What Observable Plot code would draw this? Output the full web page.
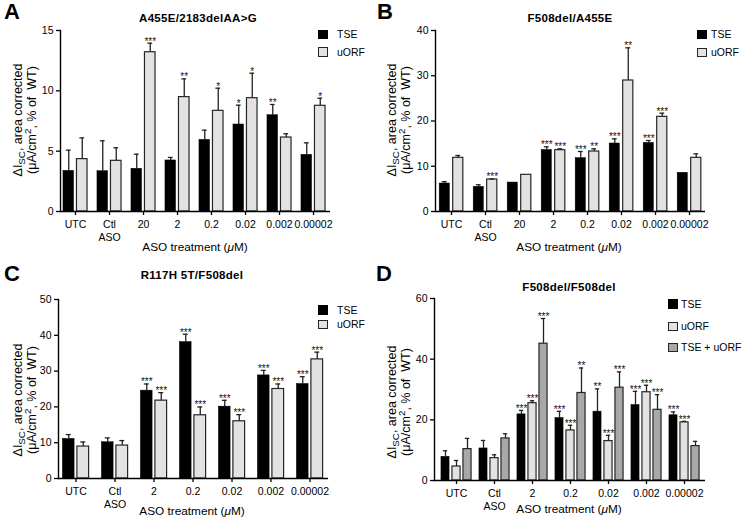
<!DOCTYPE html>
<html><head><meta charset="utf-8">
<script src="https://cdn.jsdelivr.net/npm/d3@7"></script>
<script src="https://cdn.jsdelivr.net/npm/@observablehq/plot@0.6"></script>
<style>
body{margin:0;background:#fff;}
#fig{position:relative;width:744px;height:523px;font-family:"Liberation Sans",Arial,Helvetica,sans-serif;color:#000;overflow:hidden;background:#fff;}
#fig sub{font-size:0.78em;vertical-align:-0.28em;line-height:0;}
#fig sup{font-size:0.78em;vertical-align:0.5em;line-height:0;}
</style></head>
<body><div id="fig"></div>
<script>
// ---------- data ----------
const groupsAB = ["UTC","Ctl ASO","20","2","0.2","0.02","0.002","0.00002"];
const groupsCD = ["UTC","Ctl ASO","2","0.2","0.02","0.002","0.00002"];
const seriesNames = ["TSE","uORF","TSE + uORF"];

// Panel A: A455E/2183delAA>G
const aTSE      = [3.37, 3.34, 3.54, 4.23, 5.94, 7.21, 7.98, 4.70];
const aTSEsem   = [1.71, 2.52, 1.21, 0.25, 0.80, 1.60, 0.89, 0.99];
const aTSEsig   = ["", "", "", "", "", "*", "**", ""];
const aUORF     = [4.34, 4.20, 13.20, 9.48, 8.34, 9.39, 6.13, 8.76];
const aUORFsem  = [1.76, 1.08, 0.75, 1.51, 1.88, 2.07, 0.31, 0.63];
const aUORFsig  = ["", "", "***", "**", "*", "*", "", "*"];

// Panel B: F508del/A455E
const bTSE      = [6.19, 5.45, 6.40, 13.60, 11.79, 15.03, 15.17, 8.55];
const bTSEsem   = [0.41, 0.45, 0, 0.70, 1.47, 1.03, 0.52, 0];
const bTSEsig   = ["", "", "", "***", "***", "***", "***", ""];
const bUORF     = [11.86, 7.07, 8.10, 13.55, 13.26, 28.95, 20.92, 11.86];
const bUORFsem  = [0.52, 0.13, 0, 0.30, 0.59, 7.22, 0.81, 0.88];
const bUORFsig  = ["", "***", "", "***", "**", "**", "***", ""];

// Panel C: R117H 5T/F508del
const cTSE      = [11.06, 10.13, 24.54, 38.10, 20.07, 28.80, 26.40];
const cTSEsem   = [1.21, 1.21, 1.86, 2.20, 1.77, 1.40, 2.04];
const cTSEsig   = ["", "", "***", "***", "***", "***", "***"];
const cUORF     = [8.92, 9.20, 21.75, 17.66, 15.99, 25.00, 33.27];
const cUORFsem  = [1.28, 1.40, 2.23, 2.32, 1.85, 1.40, 2.03];
const cUORFsig  = ["", "", "***", "***", "***", "***", "***"];

// Panel D: F508del/F508del
const dTSE      = [7.82, 10.57, 21.80, 20.60, 22.70, 24.90, 21.50];
const dTSEsem   = [1.98, 2.63, 1.30, 2.20, 7.50, 4.50, 1.10];
const dTSEsig   = ["", "", "***", "***", "**", "***", "***"];
const dUORF     = [4.62, 7.38, 25.50, 16.50, 13.00, 29.10, 19.16];
const dUORFsem  = [1.98, 1.10, 0.80, 1.70, 1.90, 2.30, 0.34];
const dUORFsig  = ["", "", "***", "***", "***", "***", "***"];
const dCOMBO    = [10.35, 13.87, 45.10, 28.85, 30.60, 23.30, 11.34];
const dCOMBOsem = [3.52, 1.54, 8.30, 8.25, 5.20, 5.00, 1.56];
const dCOMBOsig = ["", "", "***", "**", "***", "***", ""];

const yTicksA = [0, 5, 10, 15];
const yTicksB = [0, 10, 20, 30, 40];
const yTicksC = [0, 10, 20, 30, 40, 50];
const yTicksD = [0, 20, 40, 60];

// ---------- styles ----------
const FILL = {"TSE": "#000000", "uORF": "#e2e2e2", "TSE + uORF": "#a8a8a8"};
const EDGE = "#262626";
const FONT = '"Liberation Sans", Arial, Helvetica, sans-serif';
const fig = document.getElementById("fig");

function addDiv(html, css) {
  const d = document.createElement("div");
  d.innerHTML = html;
  d.style.cssText = "position:absolute;white-space:nowrap;line-height:1;" + css;
  fig.appendChild(d);
  return d;
}

function makePanel(cfg) {
  const {groups, series, yMax, yTicks, pos, W, H, m, x0, step, barW, gap} = cfg;
  const n = series.length;
  const total = n * barW + (n - 1) * gap;
  const marks = [];
  series.forEach((s, k) => {
    const data = groups.map((g, i) => ({group: g, name: s.name, value: s.values[i], sem: s.sem[i], sig: s.sig[i]}));
    const off = -total / 2 + k * (barW + gap);
    const il = step / 2 + off, ir = step - il - barW;
    const cx = off + barW / 2;
    const isTSE = s.name === "TSE";
    marks.push(Plot.barY(data, {x: "group", y: "value", fill: FILL[s.name],
      stroke: isTSE ? "#000" : EDGE, strokeWidth: isTSE ? 0.5 : 1.2, insetLeft: il, insetRight: ir}));
    const withErr = data.filter(d => d.sem > 0);
    marks.push(Plot.ruleX(withErr, {x: "group", y1: "value", y2: d => d.value + d.sem, dx: cx, stroke: "#222", strokeWidth: 1.3}));
    marks.push(Plot.tickY(withErr, {x: "group", y: d => d.value + d.sem,
      insetLeft: step / 2 + cx - 2.6, insetRight: step / 2 - cx - 2.6, stroke: "#222", strokeWidth: 1.3}));
    marks.push(Plot.text(data.filter(d => d.sig), {x: "group", y: d => d.value + d.sem, text: "sig",
      dx: cx, dy: 1.5, lineAnchor: "bottom", fontSize: 10, fill: "#111"}));
  });
  marks.push(Plot.axisY({ticks: yTicks, tickSize: 4, tickPadding: 3, label: null, strokeWidth: 1.3}));
  marks.push(Plot.axisX({tickSize: 4, tickPadding: 4, label: null, strokeWidth: 1.3, lineHeight: 1.2,
    tickFormat: d => d.replace(" ", "\n")}));
  marks.push(Plot.frame({anchor: "left", strokeWidth: 1.4}));
  marks.push(Plot.ruleY([0], {strokeWidth: 1.4}));

  const svg = Plot.plot({
    width: W, height: H,
    marginLeft: m[0], marginRight: m[1], marginTop: m[2], marginBottom: m[3],
    x: {type: "band", domain: groups, range: [x0, x0 + groups.length * step], padding: 0},
    y: {domain: [0, yMax], nice: false},
    style: {fontFamily: FONT, fontSize: "10.5px", color: "#000", background: "transparent", overflow: "visible"},
    marks
  });
  svg.style.position = "absolute";
  svg.style.left = pos[0] + "px";
  svg.style.top = pos[1] + "px";
  fig.appendChild(svg);
}

function decorate(d) {
  addDiv(d.letter, `left:${d.letterPos[0]}px;top:${d.letterPos[1]}px;transform:translate(0,-50%);font-size:22px;font-weight:bold;`);
  addDiv(d.title, `left:${d.titlePos[0]}px;top:${d.titlePos[1]}px;transform:translate(-50%,-50%);font-size:11.5px;font-weight:bold;letter-spacing:0.3px;`);
  addDiv(`<div>ΔI<sub>SC</sub>, area corrected</div><div>(μA/cm<sup>2</sup>, % of&nbsp; WT)</div>`,
    `left:${d.yPos[0]}px;top:${d.yPos[1]}px;transform:translate(-50%,-50%) rotate(-90deg);font-size:12.5px;line-height:14px;text-align:center;`);
  addDiv(`ASO treatment (<i>μ</i>M)`, `left:${d.xPos[0]}px;top:${d.xPos[1]}px;transform:translate(-50%,-50%);font-size:11.8px;`);
  d.legend.forEach((name, i) => {
    const y = d.legY[i];
    addDiv("", `left:${d.legX}px;top:${y}px;width:10px;height:9.5px;box-sizing:border-box;background:${FILL[name]};border:1.2px solid ${name === "TSE" ? "#000" : EDGE};`);
    addDiv(name, `left:${d.legTX}px;top:${y + 4.75}px;transform:translate(0,-50%);font-size:10.5px;`);
  });
}

// ---------- panels ----------
makePanel({groups: groupsAB, yMax: 15, yTicks: yTicksA, pos: [0, 0], W: 372, H: 262,
  m: [60, 42, 30, 51], x0: 56.1, step: 34.43, barW: 11, gap: 2.5,
  series: [
    {name: seriesNames[0], values: aTSE, sem: aTSEsem, sig: aTSEsig},
    {name: seriesNames[1], values: aUORF, sem: aUORFsem, sig: aUORFsig}]});
makePanel({groups: groupsAB, yMax: 40, yTicks: yTicksB, pos: [372, 0], W: 372, H: 262,
  m: [63, 39, 30, 51], x0: 60.5, step: 34.37, barW: 10.5, gap: 3,
  series: [
    {name: seriesNames[0], values: bTSE, sem: bTSEsem, sig: bTSEsig},
    {name: seriesNames[1], values: bUORF, sem: bUORFsem, sig: bUORFsig}]});
makePanel({groups: groupsCD, yMax: 50, yTicks: yTicksC, pos: [0, 262], W: 372, H: 261,
  m: [58, 44, 37, 45], x0: 54.65, step: 39.3, barW: 12, gap: 2.5,
  series: [
    {name: seriesNames[0], values: cTSE, sem: cTSEsem, sig: cTSEsig},
    {name: seriesNames[1], values: cUORF, sem: cUORFsem, sig: cUORFsig}]});
makePanel({groups: groupsCD, yMax: 60, yTicks: yTicksD, pos: [372, 262], W: 372, H: 261,
  m: [62, 39, 36, 43], x0: 61.56, step: 38.88, barW: 9, gap: 2,
  series: [
    {name: seriesNames[0], values: dTSE, sem: dTSEsem, sig: dTSEsig},
    {name: seriesNames[1], values: dUORF, sem: dUORFsem, sig: dUORFsig},
    {name: seriesNames[2], values: dCOMBO, sem: dCOMBOsem, sig: dCOMBOsig}]});

decorate({letter: "A", letterPos: [4, 12], title: "A455E/2183delAA&gt;G", titlePos: [198, 19],
  yPos: [25, 120], xPos: [195, 248], legend: ["TSE", "uORF"], legX: 318, legY: [29.5, 47], legTX: 337});
decorate({letter: "B", letterPos: [377, 12], title: "F508del/A455E", titlePos: [570, 19],
  yPos: [399, 120], xPos: [569, 248], legend: ["TSE", "uORF"], legX: 697, legY: [29.5, 47.5], legTX: 711});
decorate({letter: "C", letterPos: [4, 274], title: "R117H 5T/F508del", titlePos: [192, 276],
  yPos: [25, 400], xPos: [192, 512], legend: ["TSE", "uORF"], legX: 318, legY: [305, 319.5], legTX: 337});
decorate({letter: "D", letterPos: [376, 274], title: "F508del/F508del", titlePos: [569, 288],
  yPos: [399, 402], xPos: [569, 510], legend: ["TSE", "uORF", "TSE + uORF"], legX: 668, legY: [299, 321.5, 342.5], legTX: 681});
</script>
</body></html>
